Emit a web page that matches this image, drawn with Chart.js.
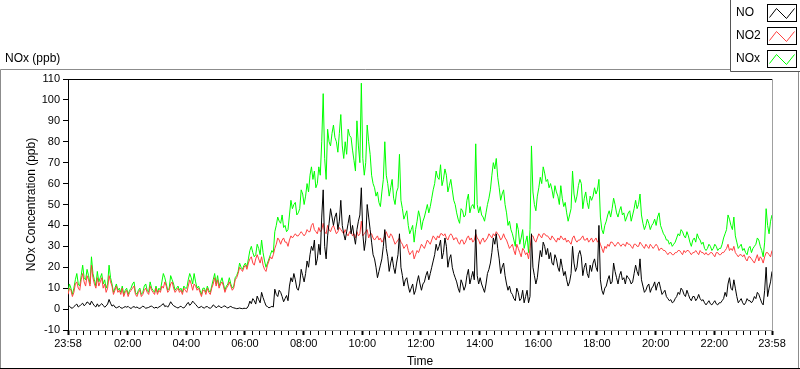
<!DOCTYPE html>
<html><head><meta charset="utf-8">
<script src="https://cdn.jsdelivr.net/npm/chart.js@4"></script>
<style>html,body{margin:0;padding:0;background:#fff;overflow:hidden}canvas{display:block}</style>
</head><body>
<canvas id="c" width="800" height="369"></canvas>
<script>
// ---- data (one sample every 3 minutes, starting 23:58) ----
const seriesNames = ['NO', 'NO2', 'NOx'];
const sampleStepMinutes = 3;

const noValues = [
  0.8,1.4,0.6,0.4,1.2,1.8,2.4,1.0,1.5,2.2,2.8,1.6,2.2,3.4,3.0,2.0,3.8,2.6,1.6,1.0,2.5,
  1.2,2.0, 2.6,1.8, 0.9,1.5, 2.4,4.6, 2.8,1.4, 2.0,1.0, 0.6,0.9, 1.3,0.6, 0.4,0.8, 1.2,0.9,
  1.3,0.6, 0.3,0.9, 1.2,0.7, 1.0,0.5, 0.3,0.8, 1.4,1.0, 0.4,0.6, 0.8,1.2, 1.5,0.8, 0.5,0.9,
  0.5,1.0, 1.4,2.0, 2.6,1.2, 1.6,0.9, 2.0,3.5, 2.4,1.6, 1.2,0.8, 0.5,1.0, 1.4,0.7, 0.6,1.2,
  2.4,3.2, 1.8,2.5, 3.8,3.0, 2.2,1.4, 0.6,0.9, 1.3,0.7, 0.5,1.1, 1.2,0.6, 0.4,0.9, 2.0,1.5,
  0.6,1.2, 1.6,0.8, 0.7,1.4, 1.5,0.9, 0.5,1.0, 1.3,0.8, 0.6,0.4, 0.2,0.3, 0.5,0.3, 0.2,0.4,
  0.3,0.4, 1.5,3.8, 2.6,5.0, 4.0,2.4, 6.2,4.5, 3.0,8.0, 5.5,3.5, 1.6,1.2, 0.6,0.9, 1.3,1.0,
  9.5,7, 6,9, 8,6, 3.5,5, 6.5,4, 11,15, 13,17, 14,10, 9,12, 19,16,
  13,17, 23,20, 26,30, 28,33, 21,24, 31,26, 44,57, 30,24, 35,41, 48,44,
  40,44, 46,38, 42,52, 40,36, 33,37, 41,45, 36,40, 35,31, 38,42, 45,58,
  36,28, 33,50, 44,38, 32,26, 24,20, 15,18, 21,24, 30,38, 29,25, 18,22,
  25,20, 17,22, 26,36, 20,16, 11,14, 15,11, 8,10, 12,7, 9,13, 16,12,
  9,12, 13,16, 18,14, 17,20, 23,26, 31,28, 30,33, 24,27, 34,30, 20,24,
  26,20, 17,15, 13,10, 8,14, 12,9, 11,16, 19,12, 15,18, 14,38, 16,12,
  15,12, 10,8, 12,17, 19,22, 27,34, 31,36, 29,24, 17,20, 22,16, 12,9,
  11,8, 7,5, 4,10, 8,4, 5,9, 3,6, 9,3, 6,36, 20,16, 12,15,
  22,28, 25,32, 30,26, 29,24, 27,22, 21,26, 24,20, 18,24, 20,16, 18,14,
  11,13, 17,30, 22,18, 20,26, 28,25, 16,20, 22,17, 15,21, 18,22, 24,20,
  18,40, 14,9, 7,10, 11,14, 16,12, 13,22, 18,15, 12,16, 18,14, 15,12,
  16,15, 14,12, 13,17, 21,18, 16,24, 14,11, 8,9, 11,12, 8,10, 11,13,
  9,12, 13,10, 7,8, 9,6, 5,4, 4.5,3, 3.5,5, 6,8, 7,10, 9,7,
  6,9, 7,5, 4,6, 6,4, 5,7, 5,4, 4.5,3, 2,3, 4,2.5, 2,3,
  4,2.5, 2,3, 3,4, 5,8, 6,12, 15,10, 9,14, 10,6, 3,4, 5,3,
  2,3, 5,4, 4,3, 4,6, 5,8, 7,5, 3,2, 9,20, 6,10, 13,18
];

const no2Values = [
  7,10,9,6,8,12,13,10,9,14,17,13,11,16,14,11,21,15,12,10,15,
  11,13, 15,10, 12,8, 10,16, 13,11, 7,9, 11,8, 9,7, 10,6, 8,9,
  6,8, 9,10, 11,7, 6,8, 9,6, 7,9, 10,8, 7,11, 9,8, 7,10,
  7,9, 8,11, 10,13, 11,8, 9,12, 13,10, 8,9, 10,8, 9,7, 10,9,
  8,11, 14,12, 9,12, 11,9, 10,8, 6,9, 9,7, 10,8, 7,10, 12,15,
  11,14, 10,12, 13,11, 8,10, 11,13, 11,9, 10,14, 15,17, 20,19, 18,20,
  21,19, 22,24, 25,22, 21,24, 26,24, 22,25, 21,19, 18,21, 23,25, 24,26,
  29,31, 34,33, 31,33, 34,32, 32,30, 33,35, 34,35, 36,35, 35,36, 37,36,
  35,36, 38,37, 37,40, 41,38, 37,36, 39,37, 38,41, 37,36, 40,38, 37,39,
  40,38, 36,37, 39,38, 37,36, 38,36, 35,37, 37,35, 36,34, 37,35, 36,42,
  35,36, 37,38, 34,36, 36,34, 33,34, 35,33, 34,32, 33,35, 37,35, 34,36,
  35,33, 31,32, 33,34, 32,31, 29,30, 31,28, 26,27, 28,24, 26,28, 27,29,
  31,30, 29,31, 33,32, 31,33, 35,34, 33,35, 34,36, 36,35, 36,34, 33,35,
  36,35, 33,34, 34,32, 31,33, 33,31, 32,34, 35,33, 34,32, 33,36, 34,33,
  31,33, 34,32, 33,34, 36,35, 34,36, 35,37, 36,35, 33,34, 36,34, 33,31,
  29,30, 31,28, 26,31, 29,27, 25,29, 28,26, 27,24, 29,35, 35,33, 32,34,
  36,35, 34,36, 36,35, 35,34, 33,35, 34,33, 32,34, 33,35, 34,33, 34,32,
  33,32, 31,34, 35,33, 32,33, 33,34, 35,33, 33,34, 32,33, 34,32, 33,34,
  32,33, 31,29, 27,30, 29,31, 30,32, 32,31, 30,31, 32,31, 30,31, 31,30,
  32,31, 31,30, 29,31, 31,30, 30,32, 31,30, 29,31, 30,29, 31,30, 29,30,
  31,30, 28,29, 29,28, 28,27, 26,27, 27,26, 26,27, 27,28, 28,27, 26,28,
  27,28, 28,27, 26,27, 27,28, 27,26, 28,27, 27,26, 27,26, 26,27, 27,26,
  25,27, 27,26, 26,27, 27,28, 29,31, 28,29, 28,30, 27,26, 25,26, 26,25,
  26,24, 23,25, 25,24, 23,22, 24,26, 23,25, 24,22, 25,27, 27,26, 25,28
];

const noxValues = [
  8,12,10,7,10,14,17,12,11,16,21,15,14,19,16,12,25,17,14,11,18,
  13,15, 17,12, 14,10, 12,21, 15,12, 8,10, 12,9, 10,8, 11,7, 9,10,
  7,9, 10,12, 13,8, 7,9, 10,7, 8,11, 12,9, 8,13, 10,9, 8,11,
  8,10, 9,13, 17,15, 12,9, 10,16, 14,12, 9,10, 11,9, 10,8, 11,10,
  10,14, 17,15, 12,17, 13,10, 11,9, 7,10, 10,8, 11,9, 8,11, 14,17,
  12,16, 11,13, 15,12, 9,11, 12,15, 12,10, 11,15, 16,18, 22,20, 19,21,
  22,20, 24,28, 30,27, 25,26, 31,29, 26,33, 27,23, 20,22, 24,26, 28,27,
  37,40, 44,42, 41,45, 39,40, 37,38, 45,52, 48,50, 51,45, 46,48, 57,55,
  50,54, 60,56, 64,68, 62,66, 58,60, 68,64, 80,103, 72,62, 86,80, 78,84,
  88,82, 80,75, 84,93, 78,72, 80,74, 86,83, 82,76, 71,66, 90,78, 70,108,
  72,64, 70,88, 80,74, 64,60, 58,54, 56,51, 49,56, 62,80, 64,60, 54,58,
  62,53, 50,56, 58,74, 52,48, 43,45, 47,40, 36,38, 40,32, 38,42, 47,44,
  38,42, 44,47, 50,46, 49,53, 57,60, 66,63, 62,69, 59,62, 67,64, 56,59,
  62,57, 52,50, 46,43, 41,48, 47,44, 45,52, 55,46, 49,50, 48,79, 50,46,
  49,45, 44,42, 46,50, 53,57, 64,70, 67,72, 63,58, 52,55, 57,50, 46,40,
  42,38, 36,33, 30,41, 38,31, 34,38, 29,32, 35,27, 38,78, 56,50, 47,54,
  58,63, 60,68, 65,61, 62,58, 60,57, 53,59, 56,54, 50,59, 53,49, 51,46,
  42,45, 48,66, 55,51, 54,59, 62,60, 48,53, 56,51, 48,54, 52,54, 58,55,
  57,62, 44,38, 36,40, 42,45, 47,44, 48,53, 50,46, 44,47, 49,45, 46,42,
  44,46, 47,42, 45,48, 52,48, 50,55, 45,41, 38,40, 43,41, 38,40, 41,43,
  40,44, 46,40, 38,36, 35,33, 33,31, 32,30, 31,32, 34,36, 35,38, 37,35,
  34,37, 35,32, 30,33, 34,32, 36,34, 33,31, 32,29, 28,29, 31,30, 28,29,
  31,30, 28,29, 29,31, 34,36, 38,45, 43,40, 38,44, 35,32, 29,30, 31,28,
  29,27, 26,29, 30,27, 29,30, 31,34, 33,30, 28,25, 32,48, 40,36, 42,45
];

// ---- axis ticks ----
const xTickMinutes = [0, 122, 242, 362, 482, 602, 722, 842, 962, 1082, 1202, 1322, 1440];
const xTickLabels = ['23:58', '02:00', '04:00', '06:00', '08:00', '10:00', '12:00', '14:00', '16:00', '18:00', '20:00', '22:00', '23:58'];
const minorTickStartMinutes = 17;
const minorTickStepMinutes = 15;
const yMin = -10, yMax = 110, yStep = 10;

const seriesColors = ['#000000', '#ff4040', '#00ff00'];
const seriesValues = [noValues, no2Values, noxValues];

const allXTicks = (() => {
  const s = new Set(xTickMinutes);
  for (let m = minorTickStartMinutes; m < 1440; m += minorTickStepMinutes) s.add(m);
  return Array.from(s).sort((a, b) => a - b);
})();

const FONT = '"Liberation Sans", Arial, sans-serif';
Chart.defaults.font.family = FONT;

const framePlugin = {
  id: 'frame',
  beforeDraw(chart) {
    const c = chart.ctx;
    c.save();
    c.fillStyle = '#fff';
    c.fillRect(0, 0, chart.width, chart.height);
    c.restore();
  },
  afterDraw(chart) {
    const c = chart.ctx, a = chart.chartArea;
    c.save();
    c.lineWidth = 1;
    c.strokeStyle = '#8c8c8c';
    c.beginPath();
    c.moveTo(0.5, 368.5); c.lineTo(0.5, 69.5); c.lineTo(730, 69.5);
    c.moveTo(798.5, 71); c.lineTo(798.5, 368);
    c.stroke();
    c.strokeStyle = '#000';
    c.beginPath(); c.moveTo(0, 368.5); c.lineTo(800, 368.5); c.stroke();
    c.strokeStyle = '#000';
    c.beginPath(); c.moveTo(a.left, a.top + 0.5); c.lineTo(a.right, a.top + 0.5); c.stroke();
    c.strokeStyle = '#a0a0a0';
    c.beginPath(); c.moveTo(a.right + 0.5, a.top); c.lineTo(a.right + 0.5, a.bottom + 1); c.stroke();
    c.fillStyle = '#000';
    c.font = '12px ' + FONT;
    c.textBaseline = 'middle';
    c.textAlign = 'left';
    c.fillText('NOx (ppb)', 5, 59);
    c.strokeStyle = '#555';
    c.beginPath(); c.moveTo(730.5, 0); c.lineTo(730.5, 71.5); c.lineTo(800, 71.5); c.stroke();
    chart.data.datasets.forEach((ds, i) => {
      const cy = 13 + i * 23;
      c.fillStyle = '#000';
      c.fillText(ds.label, 736, cy);
      const bx = 767.5, by = cy - 8.5;
      c.fillStyle = '#fff';
      c.fillRect(bx, by, 29, 17);
      c.strokeStyle = '#000';
      c.strokeRect(bx, by, 29, 17);
      c.strokeStyle = ds.borderColor;
      c.beginPath();
      c.moveTo(bx + 2, by + 13); c.lineTo(bx + 9, by + 4); c.lineTo(bx + 19, by + 14); c.lineTo(bx + 27, by + 4);
      c.stroke();
    });
    c.restore();
  }
};

new Chart(document.getElementById('c'), {
  type: 'line',
  data: {
    datasets: seriesNames.map((name, i) => ({
      label: name,
      data: seriesValues[i].map((v, k) => ({ x: k * sampleStepMinutes, y: v })),
      borderColor: seriesColors[i],
      backgroundColor: seriesColors[i],
      borderWidth: 1,
      pointRadius: 0,
      tension: 0,
      fill: false
    }))
  },
  options: {
    responsive: false,
    animation: false,
    devicePixelRatio: 1,
    layout: { padding: { top: 79, right: 28, bottom: 0, left: 0 } },
    plugins: { legend: { display: false }, tooltip: { enabled: false }, title: { display: false } },
    scales: {
      x: {
        type: 'linear',
        min: 0, max: 1440,
        afterBuildTicks(scale) { scale.ticks = allXTicks.map(v => ({ value: v })); },
        afterFit(scale) { scale.height = 39; },
        ticks: {
          autoSkip: false, maxRotation: 0, minRotation: 0,
          font: { size: 11 }, color: '#000', padding: 2,
          callback(value) { const i = xTickMinutes.indexOf(value); return i >= 0 ? xTickLabels[i] : ''; }
        },
        grid: {
          drawOnChartArea: false, drawTicks: true, tickLength: 5, tickColor: '#000',
          tickWidth: ctx => (ctx.tick && xTickMinutes.includes(ctx.tick.value)) ? 2 : 1
        },
        border: { display: true, color: '#a0a0a0', width: 1 },
        title: { display: true, text: 'Time', font: { size: 12 }, color: '#000', padding: { top: 0, bottom: 0 } }
      },
      y: {
        type: 'linear',
        min: yMin, max: yMax,
        afterFit(scale) { scale.width = 68; },
        ticks: { stepSize: yStep, font: { size: 11 }, color: '#000', padding: 3 },
        grid: { drawOnChartArea: false, drawTicks: true, tickLength: 5, tickColor: '#000' },
        border: { display: true, color: '#000', width: 1 },
        title: { display: true, text: 'NOx Concentration (ppb)', font: { size: 12 }, color: '#000', padding: { top: 24, bottom: 0 } }
      }
    }
  },
  plugins: [framePlugin]
});
</script>
</body></html>
